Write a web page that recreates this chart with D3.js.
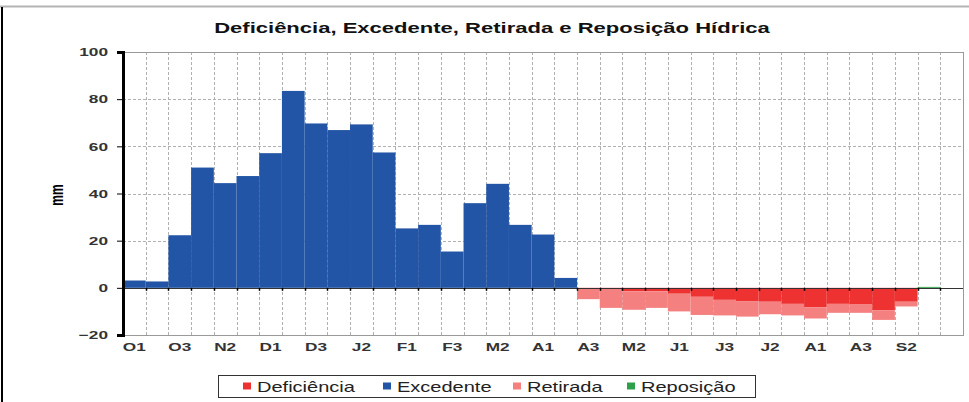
<!DOCTYPE html>
<html>
<head>
<meta charset="utf-8">
<script src="https://cdn.jsdelivr.net/npm/d3@7"></script>
<style>
  body { margin: 0; background: #fff; }
  svg { font-family: "Liberation Sans", Arial, sans-serif; }
</style>
</head>
<body>
<svg id="chart" width="969" height="402"></svg>
<script>
// decendios (10-day periods), last slot is empty
const periods = ["O1","O2","O3","N1","N2","N3","D1","D2","D3","J1","J2","J3",
                 "F1","F2","F3","M1","M2","M3","A1","A2","A3","M1","M2","M3",
                 "J1","J2","J3","J1","J2","J3","A1","A2","A3","S1","S2","S3",""];

// Excedente (positive)
const excedente = [3.1, 2.7, 22.3, 51.0, 44.4, 47.4, 57.1, 83.5, 69.7, 66.9, 69.3, 57.4,
                   25.2, 26.7, 15.4, 35.9, 44.1, 26.7, 22.6, 4.2, 0, 0, 0, 0,
                   0, 0, 0, 0, 0, 0, 0, 0, 0, 0, 0, 0, 0];
// Deficiência (negative, next to zero)
const deficiencia = [0, 0, 0, 0, 0, 0, 0, 0, 0, 0, 0, 0,
                     0, 0, 0, 0, 0, 0, 0, 0, -0.3, -0.5, -1.5, -1.5,
                     -2.5, -3.8, -5.1, -5.8, -5.9, -6.8, -8.2, -6.8, -7.1, -9.6, -5.9, 0, 0];
// Retirada (negative, below deficiência)
const retirada = [0, 0, 0, 0, 0, 0, 0, 0, 0, 0, 0, 0,
                  0, 0, 0, 0, 0, 0, 0, 0, -4.5, -8.0, -7.8, -7.0,
                  -7.5, -7.7, -6.6, -6.4, -5.3, -4.9, -4.8, -3.8, -3.5, -4.0, -2.0, 0, 0];
// Reposição (positive)
const reposicao = [0, 0, 0, 0, 0, 0, 0, 0, 0, 0, 0, 0,
                   0, 0, 0, 0, 0, 0, 0, 0, 0, 0, 0, 0,
                   0, 0, 0, 0, 0, 0, 0, 0, 0, 0, 0, 0.4, 0];

const yTicks = [-20, 0, 20, 40, 60, 80, 100];

const colors = {
    "Deficiência": "#ee3232",
    "Excedente": "#2255a5",
    "Retirada": "#f48080",
    "Reposição": "#2fa04a"
};

// the original picture is stretched sideways, so text is widened
const stretch = 1.5;

let svg = d3.select("#chart");

// outer frame
svg.append("line").attr("x1", 0).attr("x2", 969).attr("y1", 6.5).attr("y2", 6.5)
    .attr("stroke", "#b4b4b4").attr("stroke-width", 2);
svg.append("line").attr("x1", 2).attr("x2", 2).attr("y1", 7).attr("y2", 402)
    .attr("stroke", "#000").attr("stroke-width", 2);

// title
svg.append("text")
    .attr("transform", `translate(492,33) scale(1.52,1)`)
    .attr("text-anchor", "middle")
    .style("font-size", "14.5px")
    .style("font-weight", "bold")
    .style("fill", "#111")
    .text("Deficiência, Excedente, Retirada e Reposição Hídrica");

const plotLeft = 123, plotRight = 963, plotTop = 52, plotBottom = 335;

let x = d3.scaleBand()
    .domain(d3.range(periods.length))
    .range([plotLeft, plotRight])
    .padding(0);

let y = d3.scaleLinear()
    .domain([-20, 100])
    .range([plotBottom, plotTop]);

// horizontal grid
svg.append("g")
    .selectAll("line")
    .data(yTicks.filter(t => t != 0 && t != -20 && t != 100))
    .join("line")
    .attr("x1", plotLeft).attr("x2", plotRight)
    .attr("y1", d => Math.round(y(d)) + 0.5).attr("y2", d => Math.round(y(d)) + 0.5)
    .attr("stroke", "#b0b0b0")
    .attr("stroke-dasharray", "3,2");

// vertical grid at band boundaries
svg.append("g")
    .selectAll("line")
    .data(d3.range(1, periods.length))
    .join("line")
    .attr("x1", d => Math.round(x(d)) + 0.5).attr("x2", d => Math.round(x(d)) + 0.5)
    .attr("y1", plotTop).attr("y2", plotBottom)
    .attr("stroke", "#b0b0b0")
    .attr("stroke-dasharray", "3,2");

// plot border
svg.append("rect")
    .attr("x", plotLeft + 0.5).attr("y", y(100) + 0.5)
    .attr("width", plotRight - plotLeft).attr("height", y(-20) - y(100))
    .attr("fill", "none")
    .attr("stroke", "#9a9a9a");

// bars
function drawBars(values, base, color) {
    svg.append("g")
        .selectAll("rect")
        .data(values.map((v, i) => ({ i: i, v: v, b: base ? base[i] : 0 })).filter(d => d.v != 0))
        .join("rect")
        .attr("x", d => x(d.i))
        .attr("width", x.bandwidth())
        .attr("y", d => y(Math.max(d.b, d.b + d.v)))
        .attr("height", d => Math.abs(y(d.b + d.v) - y(d.b)))
        .attr("fill", color);
}

drawBars(excedente, null, colors["Excedente"]);
drawBars(deficiencia, null, colors["Deficiência"]);
drawBars(retirada, deficiencia, colors["Retirada"]);
drawBars(reposicao, null, colors["Reposição"]);

// zero line with ticks
svg.append("line")
    .attr("x1", plotLeft).attr("x2", plotRight)
    .attr("y1", Math.round(y(0)) + 0.5).attr("y2", Math.round(y(0)) + 0.5)
    .attr("stroke", "#333");

svg.append("g")
    .selectAll("line")
    .data(d3.range(1, periods.length))
    .join("line")
    .attr("x1", d => Math.round(x(d)) + 0.5).attr("x2", d => Math.round(x(d)) + 0.5)
    .attr("y1", y(0)).attr("y2", y(0) + 3)
    .attr("stroke", "#000")
    .attr("stroke-width", 1.5);

// x labels (every other period)
svg.append("g")
    .selectAll("text")
    .data(periods.map((p, i) => ({ p: p, i: i })).filter(d => d.i % 2 == 0 && d.p != ""))
    .join("text")
    .attr("transform", d => `translate(${x(d.i) + x.bandwidth() / 2},351) scale(${stretch},1)`)
    .attr("text-anchor", "middle")
    .style("font-size", "11.5px")
    .style("font-weight", "bold")
    .style("fill", "#333")
    .text(d => d.p);

// y axis
let yAxis = svg.append("g")
    .attr("transform", `translate(${plotLeft},0)`)
    .call(d3.axisLeft(y).tickValues(yTicks).tickSize(6).tickPadding(0));

yAxis.select(".domain").attr("stroke", "#000").attr("stroke-width", 3);
yAxis.selectAll(".tick line").attr("stroke", "#000");
yAxis.selectAll(".tick text")
    .attr("x", 0)
    .attr("transform", `translate(-15,0) scale(${stretch},1)`)
    .style("font-family", "\"Liberation Sans\", Arial, sans-serif")
    .style("font-size", "11.5px")
    .style("font-weight", "bold")
    .style("fill", "#333");

// y title
svg.append("text")
    .attr("transform", `translate(63,195) rotate(-90) scale(1,${stretch})`)
    .attr("text-anchor", "middle")
    .style("font-size", "12px")
    .style("font-weight", "bold")
    .text("mm");

// legend
const legendItems = ["Deficiência", "Excedente", "Retirada", "Reposição"];
const legendX = [243, 383, 513, 627];

svg.append("rect")
    .attr("x", 218.5).attr("y", 375.5)
    .attr("width", 537).attr("height", 22)
    .attr("fill", "#fff")
    .attr("stroke", "#333");

let lg = svg.append("g")
    .selectAll("g")
    .data(legendItems)
    .join("g")
    .attr("transform", (d, i) => `translate(${legendX[i]},386)`);

lg.append("rect")
    .attr("x", 0).attr("y", -3.5)
    .attr("width", 8).attr("height", 7)
    .attr("fill", d => colors[d]);

lg.append("text")
    .attr("transform", "translate(14,5.5) scale(1.38,1)")
    .style("font-size", "14.5px")
    .style("fill", "#222")
    .text(d => d);
</script>
</body>
</html>
